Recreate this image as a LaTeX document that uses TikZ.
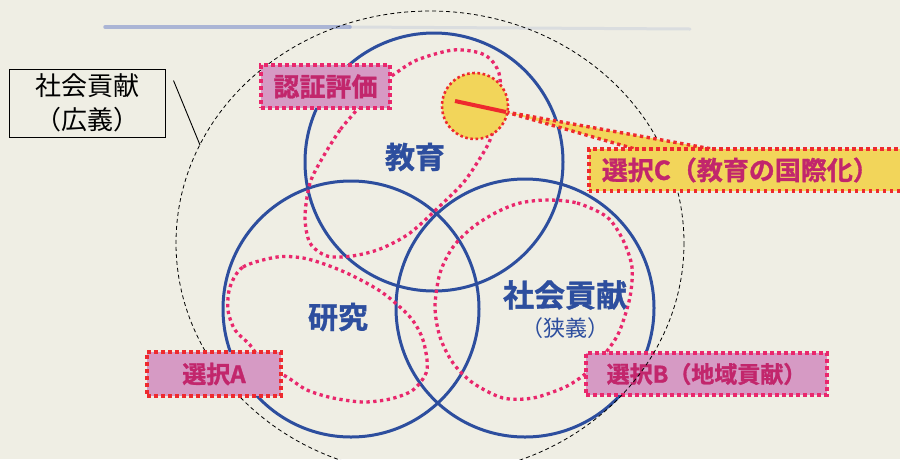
\documentclass[tikz,border=0pt]{standalone}
\usepackage{fontspec}
\setmainfont{Noto Sans CJK JP}[BoldFont={Noto Sans CJK JP Bold}, BoldFeatures={FakeBold=1.2}]
\usepackage{tikz}
\usetikzlibrary{calc}
\definecolor{paper}{HTML}{EFEEE4}
\definecolor{smudge}{HTML}{7F90CC}
\definecolor{vennblue}{HTML}{2D4E9E}
\definecolor{dotpink}{HTML}{E9276C}
\definecolor{dotred}{HTML}{EE2A2E}
\definecolor{boxpink}{HTML}{D69AC4}
\definecolor{boxtext}{HTML}{C2266C}
\definecolor{callout}{HTML}{F2D55A}
\newcommand{\pxsize}[1]{\fontsize{#1}{#1}\selectfont}
\tikzstyle{venn} = [circle, draw=vennblue, line width=3pt, inner sep=0pt]
\tikzstyle{vennlbl} = [text=vennblue, inner sep=0pt]
\tikzstyle{dots} = [draw=dotpink, line width=3.3pt, dash pattern=on 3.3pt off 3.5pt]
\tikzstyle{choice} = [rectangle, fill=boxpink, draw=dotpink, line width=3.6pt, dash pattern=on 3.6pt off 3.4pt, text=boxtext, inner sep=0pt]
\tikzstyle{calloutdots} = [draw=dotred, line width=3.4pt, dash pattern=on 3.4pt off 3.4pt]

\begin{document}
\begin{tikzpicture}[x=1pt,y=-1pt]
\useasboundingbox (0,0) rectangle (900,459);
\fill[paper] (0,0) rectangle (900,459);
\draw[smudge, line width=3.5pt, opacity=.6, line cap=round] (105,27) -- (350,27);
\draw[smudge, line width=3pt, opacity=.18, line cap=round] (350,27) -- (690,29);

% the three fields
\node[venn, minimum size=258pt] (edu) at (434,162) {};
\node[venn, minimum size=256pt] (res) at (351,309) {};
\node[venn, minimum size=258pt] (soc) at (525,308) {};

% dotted areas
\draw[dots] plot[smooth cycle] coordinates {(355,112) (340,130) (323,157) (310,183) (305,217) (310,243) (327,256) (352,256) (380,249) (410,233) (443,203) (463,183) (477,163) (490,140) (498,110) (500,78) (493,62) (480,53) (453,50) (417,60) (393,75) (370,92)};
\draw[dots] plot[smooth cycle] coordinates {(230,287) (243,267) (277,257) (303,258) (327,265) (353,276) (383,293) (410,317) (423,340) (427,370) (413,390) (390,399) (363,402) (333,398) (307,390) (287,377) (265,365) (250,345) (235,330) (228,310)};
\draw[dots] plot[smooth cycle] coordinates {(547,200) (577,203) (607,217) (623,240) (632,267) (630,297) (620,330) (610,347) (595,365) (580,378) (563,388) (533,398) (503,398) (473,383) (453,363) (440,337) (435,307) (440,273) (453,247) (473,227) (497,212) (520,203)};

\node[choice, minimum width=241pt, minimum height=42pt, font=\bfseries\pxsize{23}] (choiceB) at (706.5,374) {選択B（地域貢献）};

% wide sense
\draw[black, line width=.8pt, dash pattern=on 4pt off 3pt] (430,243) ellipse [x radius=254, y radius=232];

% callout
\coordinate (tip) at (506,112);
\coordinate (wedgeL) at (635,149);
\coordinate (wedgeR) at (712,149);
\fill[callout] (tip) -- (wedgeL) -- (wedgeR) -- cycle;
\draw[calloutdots] (tip) -- (wedgeL);
\draw[calloutdots] (tip) -- (wedgeR);
\node[circle, fill=callout, draw=dotred, line width=2.6pt, dash pattern=on 2.6pt off 2.6pt, minimum size=66pt, inner sep=0pt] (intl) at (475,106) {};
\draw[dotred, line width=4pt] ([shift={(-20,-5)}]intl.center) -- (tip);

\node[choice, fill=callout, draw=dotred, anchor=west, text width=300pt, align=left, inner xsep=13pt, minimum height=42pt, font=\bfseries\pxsize{26}] (choiceC) at (587,170) {選択C（教育の国際化）};
\node[choice, draw=dotred, minimum width=134pt, minimum height=44pt, font=\bfseries\pxsize{24}] (choiceA) at (214,374) {選択A};
\node[choice, minimum width=129pt, minimum height=43pt, font=\bfseries\pxsize{26}] (accred) at (325.5,86.5) {認証評価};

% labels
\node[vennlbl, font=\bfseries\pxsize{30}] (eduLbl) at (415,157) {教育};
\node[vennlbl, font=\bfseries\pxsize{30}] (resLbl) at (338,317) {研究};
\node[vennlbl, font=\bfseries\pxsize{31}] (socLbl) at (565,295) {社会貢献};
\node[vennlbl, font=\pxsize{22}] (socSub) at (565,328) {（狭義）};

\node[draw=black, line width=1pt, minimum width=156pt, minimum height=68pt, align=center, inner sep=0pt, font=\fontsize{26}{34}\selectfont] (wide) at (87,103) {社会貢献\\（広義）};
\coordinate (rim) at (200,145);
\draw[line width=.9pt] ([xshift=8pt,yshift=-12pt]wide.north east) -- (rim);
\end{tikzpicture}
\end{document}
